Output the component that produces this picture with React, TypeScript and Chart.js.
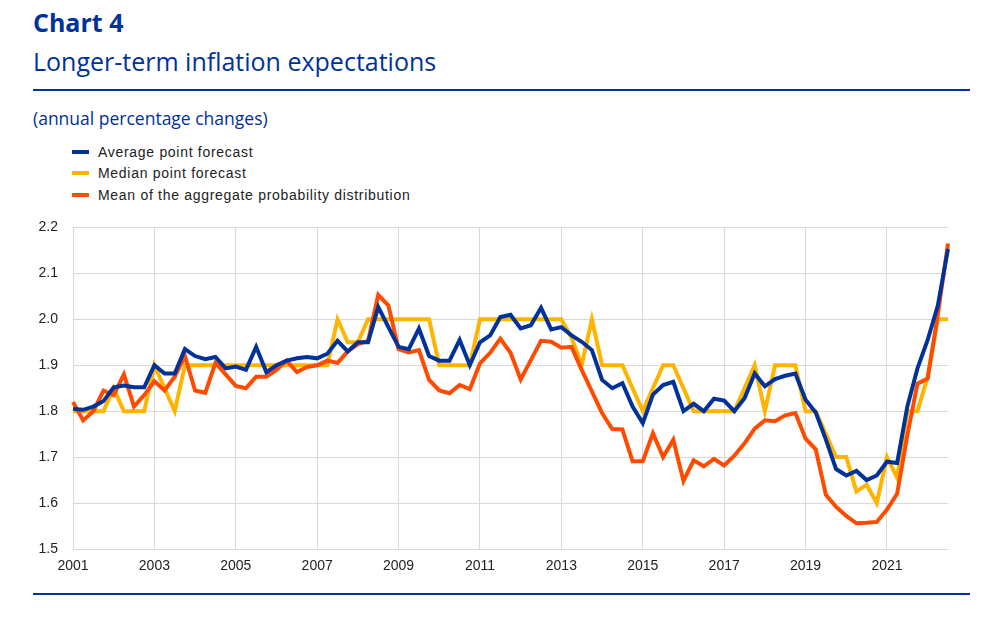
import React, { useEffect, useRef } from "react";
import { Chart, registerables } from "chart.js";

Chart.register(...registerables);

// ---- Data (quarterly, 2001Q1 – 2022Q3) ----
const FIRST_YEAR = 2001;
const QUARTER_COUNT = 87;
const quarterLabels: string[] = [];
for (let i = 0; i < QUARTER_COUNT; i++) {
  quarterLabels.push(`${FIRST_YEAR + Math.floor(i / 4)}Q${(i % 4) + 1}`);
}

const xTickYears = ["2001", "2003", "2005", "2007", "2009", "2011", "2013", "2015", "2017", "2019", "2021"];

const seriesNames = [
  "Average point forecast",
  "Median point forecast",
  "Mean of the aggregate probability distribution",
];
const seriesColors = ["#003299", "#ffb400", "#ff4b00"];

const averagePointForecast = [
  1.805, 1.803, 1.81, 1.822, 1.852, 1.856, 1.852, 1.852,
  1.9, 1.882, 1.882, 1.935, 1.92, 1.913, 1.918, 1.893,
  1.897, 1.89, 1.94, 1.885, 1.9, 1.91, 1.915, 1.918,
  1.915, 1.925, 1.953, 1.93, 1.95, 1.95, 2.027, 1.983,
  1.94, 1.935, 1.98, 1.92, 1.91, 1.91, 1.955, 1.9,
  1.95, 1.965, 2.005, 2.01, 1.98, 1.987, 2.025, 1.978,
  1.983, 1.965, 1.951, 1.933, 1.868, 1.85, 1.861, 1.81,
  1.774, 1.836, 1.857, 1.864, 1.8, 1.816, 1.8, 1.827,
  1.823, 1.8, 1.828, 1.882, 1.854, 1.87, 1.877, 1.882,
  1.825, 1.797, 1.738, 1.674, 1.66, 1.67, 1.65, 1.66,
  1.69, 1.687, 1.81, 1.893, 1.955, 2.03, 2.153,
];

const medianPointForecast = [
  1.8, 1.8, 1.8, 1.8, 1.85, 1.8, 1.8, 1.8,
  1.9, 1.85, 1.8, 1.9, 1.9, 1.9, 1.9, 1.9,
  1.9, 1.9, 1.9, 1.9, 1.9, 1.9, 1.9, 1.9,
  1.9, 1.9, 2.0, 1.95, 1.95, 2.0, 2.0, 2.0,
  2.0, 2.0, 2.0, 2.0, 1.9, 1.9, 1.9, 1.9,
  2.0, 2.0, 2.0, 2.0, 2.0, 2.0, 2.0, 2.0,
  2.0, 1.96, 1.9, 2.0, 1.9, 1.9, 1.9, 1.85,
  1.8, 1.85, 1.9, 1.9, 1.85, 1.8, 1.8, 1.8,
  1.8, 1.8, 1.85, 1.9, 1.8, 1.9, 1.9, 1.9,
  1.8, 1.8, 1.75, 1.7, 1.7, 1.625, 1.64, 1.6,
  1.7, 1.655, 1.8, 1.8, 1.875, 2.0, 2.0,
];

const meanProbabilityDistribution = [
  1.82, 1.78, 1.8, 1.845, 1.835, 1.88, 1.81, 1.835,
  1.865, 1.845, 1.875, 1.92, 1.845, 1.84, 1.905, 1.88,
  1.855, 1.85, 1.875, 1.875, 1.89, 1.91, 1.885, 1.896,
  1.9, 1.91, 1.905, 1.93, 1.946, 1.953, 2.053, 2.03,
  1.935, 1.928, 1.933, 1.868, 1.845, 1.839, 1.857, 1.848,
  1.904, 1.927, 1.958, 1.927, 1.869, 1.911, 1.953, 1.951,
  1.938, 1.94, 1.89, 1.843, 1.796, 1.761, 1.76, 1.691,
  1.691, 1.752, 1.7, 1.738, 1.648, 1.693, 1.68, 1.696,
  1.682, 1.703, 1.73, 1.762, 1.78, 1.778, 1.791, 1.796,
  1.74, 1.717, 1.618, 1.592, 1.572, 1.556, 1.557, 1.559,
  1.586, 1.62, 1.747, 1.86, 1.871, 2.01, 2.165,
];

const Y_MIN = 1.5;
const Y_MAX = 2.2;
const Y_STEP = 0.1;

const ECB_BLUE = "#003299";
const GRID = "#d9d9d9";
const TEXT = "#222222";
const TICK_FONT = { family: "'Liberation Sans', Arial, sans-serif", size: 14 };

function tickLabelFor(label: string): string {
  if (label.endsWith("Q1") && xTickYears.includes(label.slice(0, 4))) return label.slice(0, 4);
  return "";
}

function ChartCanvas() {
  const ref = useRef<HTMLCanvasElement | null>(null);
  useEffect(() => {
    if (!ref.current) return;
    const seriesValues = [averagePointForecast, medianPointForecast, meanProbabilityDistribution];
    const drawOrder = [0, 2, 1];
    const chart = new Chart(ref.current, {
      type: "line",
      data: {
        labels: quarterLabels,
        datasets: seriesValues.map((vals, k) => ({
          label: seriesNames[k],
          data: vals,
          borderColor: seriesColors[k],
          backgroundColor: seriesColors[k],
          borderWidth: 4,
          pointRadius: 0,
          pointHoverRadius: 0,
          tension: 0,
          fill: false,
          order: drawOrder[k],
        })),
      },
      options: {
        animation: false,
        responsive: false,
        maintainAspectRatio: false,
        events: [],
        layout: { padding: { top: 1, right: 55, bottom: 6, left: 0 } },
        plugins: {
          legend: { display: false },
          tooltip: { enabled: false },
          title: { display: false },
        },
        scales: {
          x: {
            type: "category",
            offset: false,
            border: { display: false },
            afterFit: (s: any) => {
              s.height = 30;
            },
            grid: {
              drawTicks: false,
              lineWidth: 1,
              color: (ctx: any) => (ctx.tick && ctx.tick.label ? GRID : "rgba(0,0,0,0)"),
            },
            ticks: {
              autoSkip: false,
              maxRotation: 0,
              minRotation: 0,
              padding: 9,
              color: TEXT,
              font: TICK_FONT,
              callback: function (this: any, value: any) {
                return tickLabelFor(this.getLabelForValue(value));
              },
            },
          },
          y: {
            min: Y_MIN,
            max: Y_MAX,
            border: { display: false },
            afterFit: (s: any) => {
              s.width = 73;
            },
            grid: { drawTicks: false, color: GRID, lineWidth: 1 },
            ticks: {
              stepSize: Y_STEP,
              padding: 15,
              color: TEXT,
              font: TICK_FONT,
              callback: (v: any) => Number(v).toFixed(1),
            },
          },
        },
      },
    });
    return () => chart.destroy();
  }, []);
  return (
    <canvas
      ref={ref}
      width={1003}
      height={381}
      style={{ position: "absolute", left: 0, top: 204, width: 1003, height: 381 }}
    />
  );
}

export default function App() {
  const rows = [152, 173, 195];
  return (
    <div
      style={{
        position: "absolute",
        left: 0,
        top: 0,
        width: 1003,
        height: 625,
        background: "#ffffff",
        overflow: "hidden",
      }}
    >
      <div
        style={{
          position: "absolute",
          left: 33,
          top: 6,
          fontFamily: "'Open Sans', sans-serif",
          fontWeight: 700,
          fontSize: 25,
          lineHeight: "32px",
          color: ECB_BLUE,
          whiteSpace: "nowrap",
        }}
      >
        Chart 4
      </div>
      <div
        style={{
          position: "absolute",
          left: 33,
          top: 45,
          fontFamily: "'Open Sans', sans-serif",
          fontWeight: 400,
          fontSize: 25,
          lineHeight: "32px",
          color: ECB_BLUE,
          whiteSpace: "nowrap",
        }}
      >
        Longer-term inflation expectations
      </div>
      <div style={{ position: "absolute", left: 33, top: 89, width: 937, height: 2, background: ECB_BLUE }} />
      <div
        style={{
          position: "absolute",
          left: 33,
          top: 106,
          fontFamily: "'Open Sans', sans-serif",
          fontSize: 17.5,
          lineHeight: "24px",
          color: ECB_BLUE,
          whiteSpace: "nowrap",
        }}
      >
        (annual percentage changes)
      </div>
      {seriesNames.map((name, k) => (
        <div key={name}>
          <div
            style={{
              position: "absolute",
              left: 72,
              top: rows[k] - 2,
              width: 17,
              height: 4,
              background: seriesColors[k],
            }}
          />
          <div
            style={{
              position: "absolute",
              left: 98,
              top: rows[k] - 9,
              fontFamily: "'Liberation Sans', Arial, sans-serif",
              fontSize: 14,
              lineHeight: "18px",
              letterSpacing: "0.7px",
              color: TEXT,
              whiteSpace: "nowrap",
            }}
          >
            {name}
          </div>
        </div>
      ))}
      <ChartCanvas />
      <div style={{ position: "absolute", left: 33, top: 593, width: 937, height: 2, background: ECB_BLUE }} />
    </div>
  );
}
